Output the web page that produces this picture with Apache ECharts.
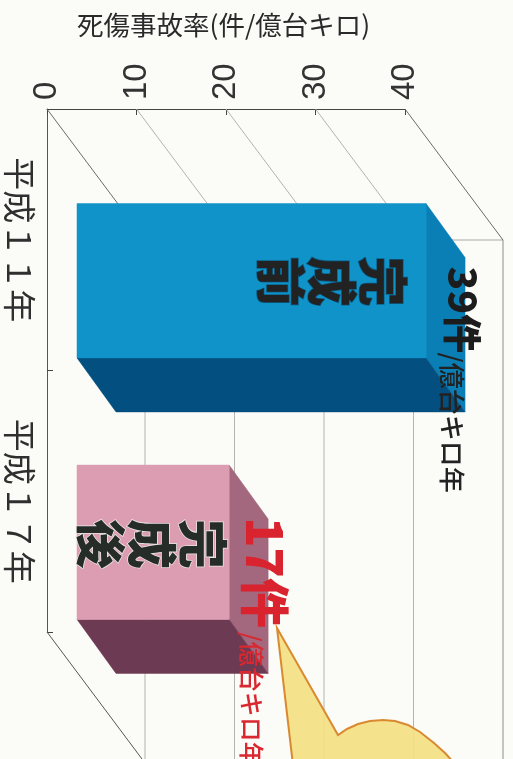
<!DOCTYPE html>
<html lang="ja">
<head>
<meta charset="utf-8">
<style>html,body{margin:0;padding:0;background:#fbfbf8}#chart{width:513px;height:759px}</style>
<script src="https://cdn.jsdelivr.net/npm/echarts@6/dist/echarts.min.js"></script>
</head>
<body>
<div id="chart"></div>
<script>
const axisTitle = '死傷事故率(件/億台キロ)';
const years = ['平成１１年', '平成１７年'];
const captions = ['完成前', '完成後'];
const accidentRates = [39, 17];
const rateTicks = [0, 10, 20, 30, 40];
const countUnit = '件';
const rateUnit = '/億台キロ年';

const CJK = '"Noto Sans CJK JP", sans-serif';

// Oblique projection of the box: wall depth and the depth range of the bars.
const WALL = [98, 131];
const BAR_NEAR = [30, 41];
const BAR_DEPTH = [39, 54];
const BAR_SHARE = 0.59;

const barLooks = [
  { front: '#1093c9', side: '#0a7fb6', under: '#034f7f', ink: '#222',
    capInset: 18, capDrop: 54, capHalo: '#0c5f88',
    bigSize: 39, bigDx: 37, bigDrop: 63, smallSize: 26, smallDx: 26, smallDrop: 149, smallInk: '#222', bigInk: '#1c1c1c' },
  { front: '#dc9db3', side: '#a3687e', under: '#6c3a52', ink: '#262c28',
    capInset: 1, capDrop: 55, capHalo: '#e9e6e6',
    bigSize: 50, bigDx: 36, bigDrop: 52, smallSize: 25, smallDx: 22, smallDrop: 167, smallInk: '#d9282f', bigInk: '#d9232e' }
];

function line(x1, y1, x2, y2, stroke) {
  return { type: 'line', shape: { x1, y1, x2, y2 }, style: { stroke, lineWidth: 1, fill: null } };
}

// Side wall, floor and back wall, one set of rules per value tick.
function renderWalls(params, api) {
  const v = api.value(0);
  const sys = params.coordSys;
  const top = api.coord([v, 0]);
  const x = top[0];
  const y0 = sys.y;
  const isEdge = v === rateTicks[0] || v === rateTicks[rateTicks.length - 1];
  const dark = '#6a6a6a', pale = '#b4b4ae';
  const kids = [
    line(x, y0, x + WALL[0], y0 + WALL[1], isEdge ? dark : pale),
    line(x + WALL[0], y0 + WALL[1], x + WALL[0], sys.y + sys.height + WALL[1], v === rateTicks[0] ? pale : (isEdge ? '#8c8c88' : pale))
  ];
  if (v === rateTicks[0]) {
    kids.push(line(x, sys.y + sys.height, x + WALL[0], sys.y + sys.height + WALL[1], '#555'));
    kids.push(line(x + WALL[0], y0 + WALL[1], sys.x + sys.width + WALL[0], y0 + WALL[1], '#aaa'));
  }
  return { type: 'group', children: kids };
}

function poly(points, fill) {
  return { type: 'polygon', shape: { points }, style: { fill, stroke: fill, lineWidth: 0.5 } };
}

// Extruded bar: front face plus the two visible side faces.
function renderBar(params, api) {
  const value = api.value(0);
  const idx = api.value(1);
  const look = barLooks[idx];
  const end = api.coord([value, idx]);
  const base = api.coord([0, idx]);
  const h = api.size([0, 1])[1] * BAR_SHARE;
  const x0 = base[0] + BAR_NEAR[0];
  const x1 = end[0] + BAR_NEAR[0];
  const y0 = end[1] + BAR_NEAR[1] - h / 2;
  const y1 = y0 + h;
  const dx = BAR_DEPTH[0], dy = BAR_DEPTH[1];
  return {
    type: 'group',
    children: [
      poly([[x1, y0], [x1 + dx, y0 + dy], [x1 + dx, y1 + dy], [x1, y1]], look.side),
      poly([[x0, y1], [x1, y1], [x1 + dx, y1 + dy], [x0 + dx, y1 + dy]], look.under),
      poly([[x0, y0], [x1, y0], [x1, y1], [x0, y1]], look.front)
    ]
  };
}

// Turned text placed along each bar: caption on the face, rate beside the end.
function renderBarText(params, api) {
  const value = api.value(0);
  const idx = api.value(1);
  const look = barLooks[idx];
  const end = api.coord([value, idx]);
  const h = api.size([0, 1])[1] * BAR_SHARE;
  const x1 = end[0] + BAR_NEAR[0];
  const y0 = end[1] + BAR_NEAR[1] - h / 2;
  const turn = -Math.PI / 2;
  const kids = [];
  const capSize = 50, capPitch = 51;
  Array.from(captions[idx]).forEach((ch, i) => {
    kids.push({
      type: 'text',
      x: x1 - look.capInset - capSize / 2 - i * capPitch,
      y: y0 + look.capDrop + capSize / 2 - 1,
      rotation: turn,
      style: {
        text: ch, font: `900 ${capSize}px ${CJK}`, fill: look.ink,
        textAlign: 'center', textVerticalAlign: 'middle',
        stroke: look.capHalo, lineWidth: 1.5
      }
    });
  });
  kids.push({
    type: 'text', x: x1 + look.bigDx, y: y0 + look.bigDrop, rotation: turn,
    style: {
      text: value + countUnit, font: `900 ${look.bigSize}px ${CJK}`, fill: look.bigInk,
      textAlign: 'left', textVerticalAlign: 'middle'
    }
  });
  kids.push({
    type: 'text', x: x1 + look.smallDx, y: y0 + look.smallDrop, rotation: turn,
    style: {
      text: rateUnit, font: `500 ${look.smallSize}px ${CJK}`, fill: look.smallInk,
      textAlign: 'left', textVerticalAlign: 'middle'
    }
  });
  return { type: 'group', children: kids };
}

const barData = accidentRates.map((v, i) => [v, i]);

const chart = echarts.init(document.getElementById('chart'), null, { renderer: 'canvas' });
chart.setOption({
  backgroundColor: '#fbfbf8',
  animation: false,
  title: {
    text: axisTitle, left: 72, top: 7,
    textStyle: { fontFamily: CJK, fontSize: 26.5, fontWeight: 400, color: '#2a2a2a' }
  },
  grid: { left: 47, top: 109, width: 358, height: 523 },
  xAxis: {
    type: 'value', position: 'top', min: 0, max: 40, interval: 10,
    splitLine: { show: false },
    axisLine: { show: true, lineStyle: { color: '#444', width: 1 } },
    axisTick: { show: true, inside: true, length: 6, lineStyle: { color: '#444' } },
    axisLabel: {
      rotate: -90, margin: 9, fontSize: 33, color: '#333',
      fontFamily: '"Liberation Sans", sans-serif'
    }
  },
  yAxis: {
    type: 'category', inverse: true, data: years,
    axisLine: { show: true, lineStyle: { color: '#555', width: 1 } },
    axisTick: { show: true, inside: true, length: 6, lineStyle: { color: '#444' } },
    axisLabel: { rotate: -90, margin: 11, fontSize: 33, color: '#2f2f2f', fontFamily: CJK }
  },
  series: [
    { type: 'custom', z: 1, silent: true, renderItem: renderWalls, encode: { x: 0 }, data: rateTicks.map(v => [v]) },
    { type: 'custom', z: 3, silent: true, renderItem: renderBar, encode: { x: 0, y: 1 }, data: barData },
    { type: 'custom', z: 4, silent: true, renderItem: renderBarText, encode: { x: 0, y: 1 }, data: barData }
  ],
  graphic: [{
    // Speech-bubble callout rising from the bottom edge toward the second bar.
    type: 'polygon', z: 5, silent: true,
    shape: { points: [[293, 765], [277, 628], [338, 735], [347, 729], [358, 724], [370, 721], [383, 720], [395, 721], [408, 725], [420, 732], [434, 743], [445, 753], [456, 765]] },
    style: { fill: 'rgba(244,223,130,0.92)', stroke: '#d98a30', lineWidth: 2 }
  }]
});
</script>
</body>
</html>
